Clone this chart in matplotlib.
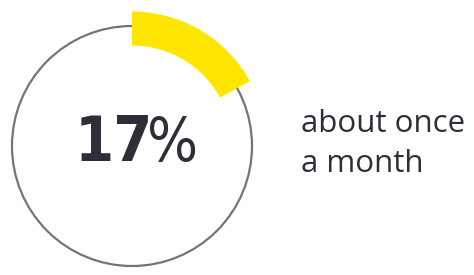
import matplotlib
matplotlib.use("Agg")
import matplotlib.pyplot as plt
from matplotlib.patches import Wedge, Circle
from matplotlib import font_manager as fm

# data
share_pct = 17
label_value = "17"
label_unit = "%"
caption_lines = ["about once", "a month"]


def pick_font(name, stretch, weight, size):
    for f in fm.fontManager.ttflist:
        if (f.name == name and f.stretch == stretch and f.weight == weight
                and f.style == "normal"):
            return fm.FontProperties(fname=f.fname, size=size)
    return fm.FontProperties(family="DejaVu Sans", weight=weight, size=size)


W, H = 474, 275
fig = plt.figure(figsize=(W / 100, H / 100), dpi=100)
ax = fig.add_axes([0, 0, 1, 1])
ax.set_xlim(0, W)
ax.set_ylim(H, 0)
ax.set_aspect("equal")
ax.axis("off")

cx, cy, r = 132, 146, 120
ax.add_patch(Circle((cx, cy), r, fill=False, edgecolor="#747480", linewidth=1.6))

start = -90.0
end = start + 360.0 * share_pct / 100.0
ax.add_patch(Wedge((cx, cy), 134.5, start, end, width=34, facecolor="#FFE600", edgecolor="none"))

dark = "#2E2E38"
ax.text(114, 161, label_value, ha="center", va="baseline", color=dark,
        fontproperties=pick_font("DejaVu Sans", "condensed", 700, 45))
ax.text(173, 161, label_unit, ha="center", va="baseline", color=dark,
        fontproperties=pick_font("DejaVu Sans", "condensed", 400, 43))

for i, line in enumerate(caption_lines):
    ax.text(301, 132 + 40 * i, line, ha="left", va="baseline", fontsize=22.5, color=dark,
            family=["Open Sans", "DejaVu Sans"], fontweight="medium")

fig.savefig("out.png", dpi=100)
